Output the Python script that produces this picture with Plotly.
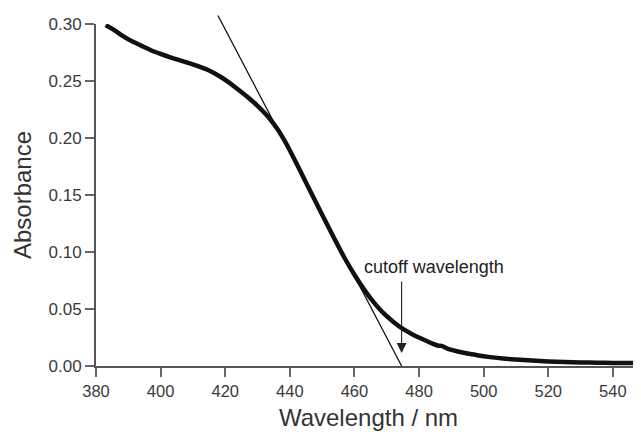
import plotly.graph_objects as go

# Absorption spectrum (wavelength in nm, absorbance)
wavelength = [383, 386, 388, 391, 394, 397, 400, 403, 406, 409, 412, 415, 418,
              421, 424, 427, 430, 433, 436, 439, 442, 445, 448, 451, 454, 457,
              460, 463, 466, 469, 472, 475, 478, 481, 484, 486, 487, 489, 492,
              495, 498, 502, 506, 510, 515, 520, 525, 530, 535, 540, 545, 549]
absorbance = [0.299, 0.294, 0.290, 0.285, 0.281, 0.277, 0.2737, 0.2707, 0.2681,
              0.2655, 0.2626, 0.2592, 0.2546, 0.2490, 0.2425, 0.2357, 0.2282,
              0.2195, 0.2085, 0.1945, 0.1780, 0.1610, 0.1440, 0.1272, 0.1105,
              0.0945, 0.0800, 0.0670, 0.0558, 0.0463, 0.0388, 0.0325, 0.0277,
              0.0237, 0.0199, 0.0178, 0.0177, 0.0150, 0.0127, 0.0109, 0.0095,
              0.0078, 0.0065, 0.0057, 0.0048, 0.0040, 0.0035, 0.0031, 0.0029,
              0.0027, 0.0026, 0.0025]

# Tangent line end points (wavelength, absorbance)
tangent_x = [417.5, 474.6]
tangent_y = [0.3088, 0.0]

# Cutoff arrow (from / to) and label
cutoff_x = 474.6
cutoff_arrow_y = [0.0754, 0.0114]
label_text = "cutoff wavelength"
label_x = 484.6
label_y = 0.0868

x_ticks = [380, 400, 420, 440, 460, 480, 500, 520, 540]
y_ticks = [0.00, 0.05, 0.10, 0.15, 0.20, 0.25, 0.30]

FONT = "Liberation Sans, Arial, Helvetica, sans-serif"

fig = go.Figure()
fig.add_trace(go.Scatter(
    x=wavelength, y=absorbance, mode="lines",
    line=dict(color="#111111", width=4.5, shape="spline", smoothing=0.5),
    showlegend=False, hoverinfo="skip",
))

# tangent line (annotation so it may extend above the plot area)
fig.add_annotation(
    x=tangent_x[1], y=tangent_y[1], xref="x", yref="y",
    ax=tangent_x[0], ay=tangent_y[0], axref="x", ayref="y",
    showarrow=True, arrowhead=0, arrowwidth=1.3, arrowcolor="#111111",
    standoff=0, startstandoff=0, text="",
)
# cutoff arrow
fig.add_annotation(
    x=cutoff_x, y=cutoff_arrow_y[1], xref="x", yref="y",
    ax=cutoff_x, ay=cutoff_arrow_y[0], axref="x", ayref="y",
    showarrow=True, arrowhead=2, arrowsize=1.8, arrowwidth=1.1,
    arrowcolor="#222222", standoff=0, text="",
)
fig.add_annotation(
    x=label_x, y=label_y, xref="x", yref="y", text=label_text,
    showarrow=False, font=dict(family=FONT, size=18, color="#222222"),
)

# the page body has an 8px margin, so the figure is sized to fit the window
fig.update_layout(
    width=633, height=429,
    margin=dict(l=88, r=0, t=16, b=71, autoexpand=False),
    plot_bgcolor="white", paper_bgcolor="white",
    font=dict(family=FONT, color="#333333"),
)
fig.update_xaxes(
    range=[380, 548.7], tickvals=x_ticks, ticktext=[str(v) for v in x_ticks],
    showgrid=False, zeroline=False, showline=True, linecolor="#555555",
    linewidth=2, ticks="outside", ticklen=9, tickwidth=1.5, tickcolor="#666666",
    tickfont=dict(family=FONT, size=16.5, color="#3a3a3a"),
    title=dict(text="Wavelength / nm", font=dict(family=FONT, size=24, color="#333333"),
               standoff=10),
    automargin=False,
)
fig.update_yaxes(
    range=[0, 0.30], tickvals=y_ticks, ticktext=[f"{v:.2f}" for v in y_ticks],
    showgrid=False, zeroline=False, showline=True, linecolor="#555555",
    linewidth=2, ticks="outside", ticklen=9, tickwidth=1.5, tickcolor="#666666",
    tickfont=dict(family=FONT, size=17, color="#3a3a3a"),
    title=dict(text="Absorbance", font=dict(family=FONT, size=24, color="#333333"),
               standoff=10),
    automargin=False,
)

fig.write_html("out.html")
